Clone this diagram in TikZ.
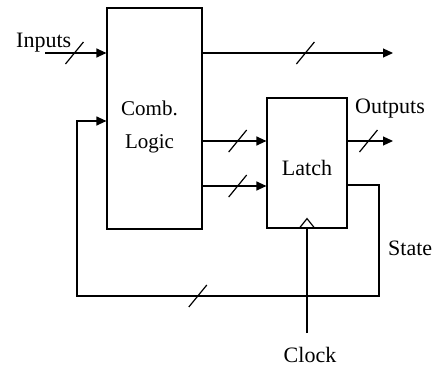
\documentclass[tikz,border=0pt]{standalone}
\usepackage{fontspec}
\setmainfont{Liberation Serif}
\usetikzlibrary{arrows.meta,calc}
\tikzset{
  block/.style={draw, line width=1.2pt, inner sep=0pt, font=\fontsize{22}{26}\selectfont},
  wire/.style={line width=1.2pt},
  flow/.style={wire, -{Triangle[length=10pt,width=9pt]}},
  sig/.style={font=\fontsize{22}{26}\selectfont, inner sep=0pt},
  combtext/.style={font=\fontsize{21}{33}\selectfont, inner sep=0pt, align=center},
  busmark/.pic={\draw[wire] (-9,11) -- (9,-11);}
}

\begin{document}
\begin{tikzpicture}[x=1pt,y=-1pt]
  \useasboundingbox (0,0) rectangle (435,369);

  \node[block, minimum width=95pt, minimum height=221pt] (comb) at (154.5,118.5) {};
  \node[combtext] (combtxt) at ([shift={(-5,8)}]comb.center) {Comb.\\Logic};
  \node[block, minimum width=80pt, minimum height=130pt, text height=24pt, text depth=0pt] (latch) at (307,163) {Latch};
  % clock input triangle
  \draw[wire] ([xshift=-8pt]latch.south) -- ([yshift=10pt]latch.south) -- ([xshift=8pt]latch.south);

  \coordinate (in) at (45,53);
  \coordinate (out) at (393,53);
  \coordinate (outs) at (393,141);
  \coordinate (fbR) at (379,296);
  \coordinate (fbL) at (77,296);
  \coordinate (clk) at (307,333);

  \draw[flow] (in) -- coordinate[pos=.48] (m1) (in -| comb.west);
  \draw[flow] (out -| comb.east) -- coordinate[pos=.54] (m2) (out);
  \draw[flow] ([yshift=22pt]latch.west -| comb.east) -- coordinate[pos=.55] (m3) ([yshift=22pt]latch.west);
  \draw[flow] ([yshift=-23pt]latch.west -| comb.east) -- coordinate[pos=.55] (m4) ([yshift=-23pt]latch.west);
  \draw[flow] ([yshift=22pt]latch.east) -- coordinate[pos=.46] (m5) (outs);
  \draw[flow] ([yshift=-22pt]latch.east) -| (fbR) -- coordinate[pos=.6] (m6) (fbL) |- ([yshift=-2.5pt]comb.west);
  \draw[wire] (clk) -- (latch.south);

  \foreach \m in {m1,m2,m3,m4,m5,m6}
    \pic at (\m) {busmark};

  \node[sig, anchor=base west] (inlbl) at (16,48) {Inputs};
  \node[sig, anchor=base west] (outlbl) at (355,113) {Outputs};
  \node[sig, anchor=base west] (statelbl) at (388,255) {State};
  \node[sig, anchor=base] (clklbl) at (310,362) {Clock};
\end{tikzpicture}
\end{document}
